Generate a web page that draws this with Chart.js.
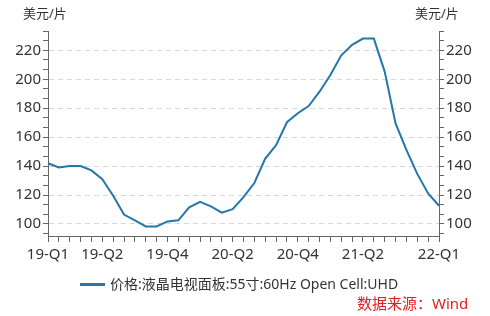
<!DOCTYPE html>
<html>
<head>
<meta charset="utf-8">
<script src="https://cdn.jsdelivr.net/npm/chart.js@4"></script>
<style>
  body { margin: 0; background: #fff; }
  #wrap { position: relative; width: 490px; height: 316px; font-family: "Noto Sans", "Noto Sans CJK SC", sans-serif; color: #333; }
  .txt { position: absolute; white-space: nowrap; }
  #legend { left: 80px; top: 275px; font-size: 14px; line-height: 18px; }
  #legend span.swatch { display: inline-block; width: 25px; height: 3px; background: #2577a9; vertical-align: middle; margin-right: 5px; position: relative; top: -1px; }
</style>
</head>
<body>
<div id="wrap">
  <canvas id="chart" width="490" height="316"></canvas>
  <div class="txt" style="left:23px;top:4px;font-size:13px;line-height:18px;">美元/片</div>
  <div class="txt" style="left:415px;top:4px;font-size:13px;line-height:18px;">美元/片</div>
  <div class="txt" id="legend"><span class="swatch"></span>价格:液晶电视面板:55寸:60Hz Open Cell:UHD</div>
  <div class="txt" style="left:357px;top:294px;font-size:15px;line-height:19px;color:#e41e1e;">数据来源：Wind</div>
</div>
<script>
// 月度数据, 2019-01 ~ 2022-01
const months = [
  '19-Q1', '', '', '', '', '19-Q2', '', '', '', '', '', '19-Q4',
  '', '', '', '', '', '20-Q2', '', '', '', '', '', '20-Q4',
  '', '', '', '', '', '21-Q2', '', '', '', '', '', '',
  '22-Q1'
];
const price = [
  142, 139, 140, 140, 137, 131, 119.5, 106.5, 102.5, 98.3, 98.3, 101.8,
  102.5, 111.5, 115.3, 112.2, 107.8, 110.3, 118.6, 128.3, 145.2, 154.5, 170.3, 176.5,
  181.5, 191.4, 202.9, 216.5, 223.8, 228.1, 228.1, 205.3, 169.5, 151.2, 134.6, 121.1,
  112.6
];
const seriesName = '价格:液晶电视面板:55寸:60Hz Open Cell:UHD';

const yMin = 91.7;
const yMax = 233.34;
// 刻度每 20/3 一格, 只在 20 的倍数上显示数字
const yTicks = [];
for (let i = 0; i <= 21; i++) yTicks.push(93.333 + i * 20 / 3);

const lineColor = '#2577a9';
const axisColor = '#666';
const fontSpec = { family: '"Noto Sans", "Noto Sans CJK SC", sans-serif', size: 15 };

function isMajor(v) {
  const r = Math.round(v);
  return Math.abs(v - r) < 0.05 && r % 20 === 0;
}

function yAxis(position, width) {
  return {
    type: 'linear',
    position: position,
    min: yMin,
    max: yMax,
    afterBuildTicks: scale => { scale.ticks = yTicks.map(v => ({ value: v })); },
    afterFit: scale => { scale.width = width; },
    ticks: {
      color: '#333',
      font: fontSpec,
      padding: 2,
      autoSkip: false,
      callback: v => isMajor(v) ? Math.round(v) : ''
    },
    grid: {
      drawOnChartArea: position === 'left',
      color: ctx => (ctx.tick && isMajor(ctx.tick.value)) ? '#d8d8d8' : 'rgba(0,0,0,0)',
      tickColor: axisColor,
      tickLength: 5,
      lineWidth: 1
    },
    border: { color: axisColor, width: 1, dash: [5, 4] }
  };
}

new Chart(document.getElementById('chart'), {
  type: 'line',
  data: {
    labels: months,
    datasets: [{
      label: seriesName,
      data: price,
      borderColor: lineColor,
      borderWidth: 2,
      pointRadius: 0,
      tension: 0,
      yAxisID: 'y'
    }]
  },
  options: {
    responsive: false,
    animation: false,
    layout: { padding: { top: 31, bottom: 50, left: 0, right: 0 } },
    plugins: { legend: { display: false }, tooltip: { enabled: false } },
    scales: {
      x: {
        type: 'category',
        offset: false,
        afterFit: scale => { scale.height = 30; },
        ticks: { color: '#333', font: fontSpec, autoSkip: false, maxRotation: 0, padding: 4 },
        grid: { drawOnChartArea: false, tickColor: axisColor, tickLength: 6 },
        border: { color: axisColor, width: 1 }
      },
      y: yAxis('left', 48),
      y2: yAxis('right', 51)
    }
  }
});
</script>
</body>
</html>
